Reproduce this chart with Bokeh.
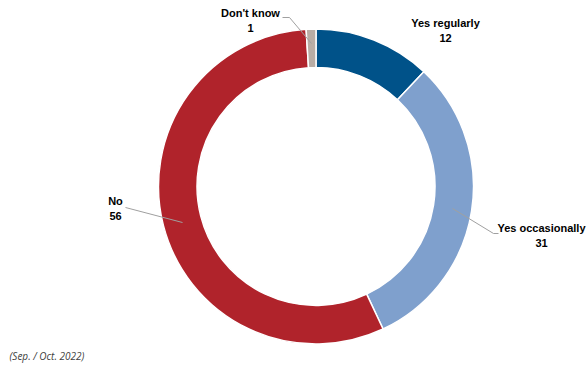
import numpy as np
from bokeh.plotting import figure
from bokeh.models import ColumnDataSource, Label
from bokeh.embed import file_html
from bokeh.resources import INLINE

categories = ["Yes regularly", "Yes occasionally", "No", "Don't know"]
values = [12, 31, 56, 1]
colors = ["#005289", "#7FA0CD", "#B0232B", "#B9ADA5"]
footnote = "(Sep. / Oct. 2022)"

W, H = 587, 366
p = figure(width=W, height=H, x_range=(0, W), y_range=(0, H),
           output_backend="svg", toolbar_location=None, min_border=0)
p.axis.visible = False
p.grid.visible = False
p.outline_line_color = None

def Y(y):
    return H - y

def X(x):
    return x

cx, cy = X(315.5), Y(186)
r_out, r_in = 157.5, 119

total = float(sum(values))
frac = np.array(values) / total
cum = np.concatenate([[0], np.cumsum(frac)])
start = np.pi / 2 - cum[:-1] * 2 * np.pi
end = np.pi / 2 - cum[1:] * 2 * np.pi
src = ColumnDataSource(dict(start=start, end=end, color=colors, cat=categories, val=values))
p.annular_wedge(x=cx, y=cy, inner_radius=r_in, outer_radius=r_out,
                start_angle="start", end_angle="end", direction="clock",
                fill_color="color", line_color="white", line_width=1.5, source=src)

# leader lines (page px)
leaders = [
    [(282, 17), (289, 17), (311, 43)],
    [(125, 207), (182, 222)],
    [(452, 208), (493, 233), (498, 233)],
]
for pts in leaders:
    p.line([X(a) for a, b in pts], [Y(b) for a, b in pts], line_color="#A0A0A0", line_width=1)

labels = [
    (250, 12, categories[3], values[3]),
    (445, 22, categories[0], values[0]),
    (115, 200, categories[2], values[2]),
    (541, 227, categories[1], values[1]),
]
for x, y, name, v in labels:
    p.add_layout(Label(x=X(x), y=Y(y), text=name, text_align="center", text_baseline="middle",
                       text_font="Liberation Sans", text_font_style="bold", text_font_size="11px",
                       text_color="#000000"))
    p.add_layout(Label(x=X(x), y=Y(y + 15), text=str(v), text_align="center", text_baseline="middle",
                       text_font="Liberation Sans", text_font_style="bold", text_font_size="11px",
                       text_color="#000000"))

p.add_layout(Label(x=X(9), y=Y(355), text=footnote, text_align="left", text_baseline="middle",
                   text_font="Open Sans", text_font_style="italic", text_font_size="10px",
                   text_color="#404040"))

open("out.html", "w").write(file_html(p, INLINE))
